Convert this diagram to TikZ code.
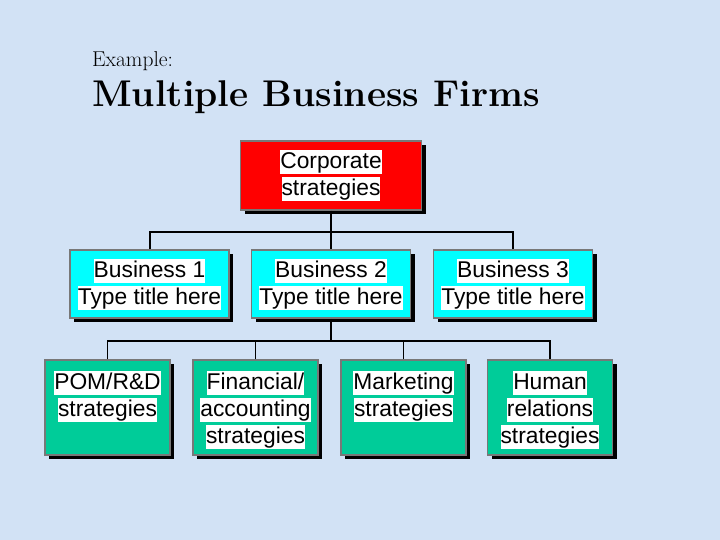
\documentclass[tikz,border=0pt]{standalone}
\usepackage{fontspec}
\setsansfont{Liberation Sans}
\usepackage{tikz}
\usetikzlibrary{shadows}
\definecolor{paper}{RGB}{210,226,245}
\definecolor{corpred}{RGB}{255,0,0}
\definecolor{buscyan}{RGB}{0,255,255}
\definecolor{funcgreen}{RGB}{0,204,153}
\definecolor{rimgray}{RGB}{120,120,120}
\newcommand{\wl}[1]{{\setlength{\fboxsep}{0pt}\colorbox{white}{\rule[-5.5bp]{0pt}{24bp}#1}}}
\newcommand{\topbox}[1]{\parbox[c][74bp][t]{122bp}{\centering #1}}

\begin{document}
\begin{tikzpicture}[x=1bp, y=-1bp,
    unit/.style={draw=rimgray, line width=1.5bp, inner sep=0pt, align=center,
        font=\sffamily\fontsize{22.8bp}{27bp}\selectfont,
        drop shadow={shadow xshift=4bp, shadow yshift=-4bp, fill=black, opacity=1}},
    corpbox/.style={unit, fill=corpred, minimum width=181bp, minimum height=69bp},
    busbox/.style={unit, fill=buscyan, minimum width=159bp, minimum height=68bp},
    funcbox/.style={unit, fill=funcgreen, minimum width=125bp, minimum height=95bp},
    link/.style={line width=2bp}]

    % Background
    \fill[paper] (0,0) rectangle (720,540);
    \useasboundingbox (0,0) rectangle (720,540);

    % Title
    \node[anchor=base west, inner sep=0pt, font=\fontsize{21.5bp}{24bp}\selectfont] (ex) at (92,67) {Example:};
    \node[anchor=base west, inner sep=0pt, font=\bfseries\fontsize{37.2bp}{42bp}\selectfont] (title) at (92,107) {Multiple Business Firms};

    % Corporate level
    \node[corpbox] (corp) at (331,175.5) {\wl{Corporate}\\\wl{strategies}};

    % Business level
    \node[busbox] (bus1) at (149.5,284) {\wl{Business 1}\\\wl{Type title here}};
    \node[busbox] (bus2) at (331,284) {\wl{Business 2}\\\wl{Type title here}};
    \node[busbox] (bus3) at (513,284) {\wl{Business 3}\\\wl{Type title here}};

    % Functional level
    \node[funcbox] (pom) at (107.5,407.5) {\topbox{\wl{POM/R\&D}\\\wl{strategies}}};
    \node[funcbox] (fin) at (255.5,407.5) {\topbox{\wl{Financial/}\\\wl{accounting}\\\wl{strategies}}};
    \node[funcbox] (mkt) at (403.5,407.5) {\topbox{\wl{Marketing}\\\wl{strategies}}};
    \node[funcbox] (hum) at (550,407.5) {\topbox{\wl{Human}\\\wl{relations}\\\wl{strategies}}};

    % Connectors
    \coordinate (trunk) at (331,232);
    \coordinate (fork) at (331,341);
    \draw[link] (corp.south) -- (trunk) -- (bus2.north);
    \draw[link] (bus1.north) |- (trunk) -| (bus3.north);
    \draw[line width=1.3bp] (bus2.south) -- (fork);
    \draw[line width=1.3bp] (pom.north) |- (fork) -| (hum.north);
    \draw[line width=1.3bp] (fin.north) -- (fin.north |- fork);
    \draw[line width=1.3bp] (mkt.north) -- (mkt.north |- fork);

\end{tikzpicture}
\end{document}
